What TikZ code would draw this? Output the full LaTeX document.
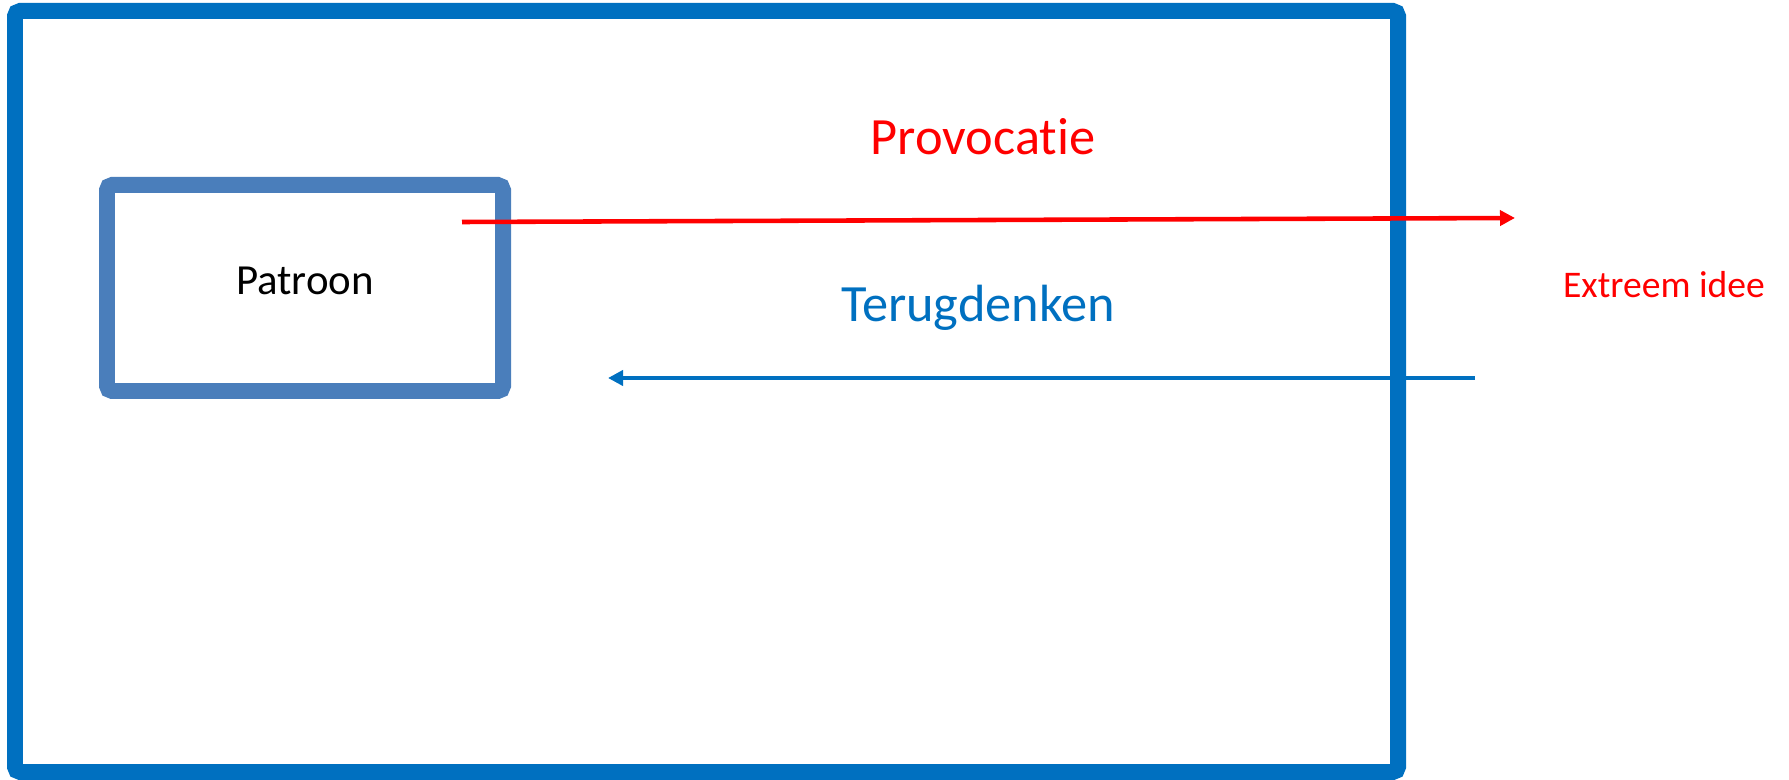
\documentclass[tikz,border=0pt]{standalone}
\usepackage{fontspec}
\setmainfont{Carlito}[Ligatures=NoCommon]
\usetikzlibrary{arrows.meta}
\usetikzlibrary{positioning}
\definecolor{frameblue}{RGB}{0,112,192}
\definecolor{boxblue}{RGB}{74,126,187}
\definecolor{provred}{RGB}{255,0,0}

\begin{document}
\begin{tikzpicture}
				\tikzset{frame/.style = {draw=frameblue, line width=4.55pt, rounded corners=1.5pt}}
				\tikzset{patbox/.style = {shape=rectangle, draw=boxblue, line width=4.55pt,
						rounded corners=1.5pt, minimum width=3.96cm, minimum height=2.06cm,
						inner sep=0pt, text depth=4pt, font=\fontsize{12.2}{14}\selectfont}}
				\tikzset{bigtext/.style = {inner sep=0pt, font=\fontsize{14.9}{17}\selectfont}}
				\tikzset{edge/.style = {-{Triangle[length=0.15cm, width=0.15cm]}, line width=1.3pt}}
				
				\useasboundingbox (0,0) rectangle (17.89,-7.80);
				
				% frame
				\draw[frame] (0.15,-0.11) rectangle (13.98,-7.72);
				
				% vertices
				\node[patbox] (patroon) at (3.05,-2.88) {Patroon};
				\node[bigtext, text=provred] (provocatie) at (9.83,-1.37) {Provocatie};
				\node[bigtext, text=frameblue] (terug) at (9.78,-3.08) {Terugdenken};
				\node[inner sep=0pt, text=provred, font=\fontsize{10.7}{13}\selectfont]
						(extreem) at (16.64,-2.85) {Extreem idee};
				\coordinate (rs) at (4.62,-2.22);
				\coordinate (re) at (15.15,-2.18);
				\coordinate (bs) at (14.75,-3.78);
				\coordinate (be) at (6.08,-3.78);
				
				%edges
				\draw[edge, provred] (rs) to (re);
				\draw[edge, frameblue] (bs) to (be);
				
\end{tikzpicture}
\end{document}
